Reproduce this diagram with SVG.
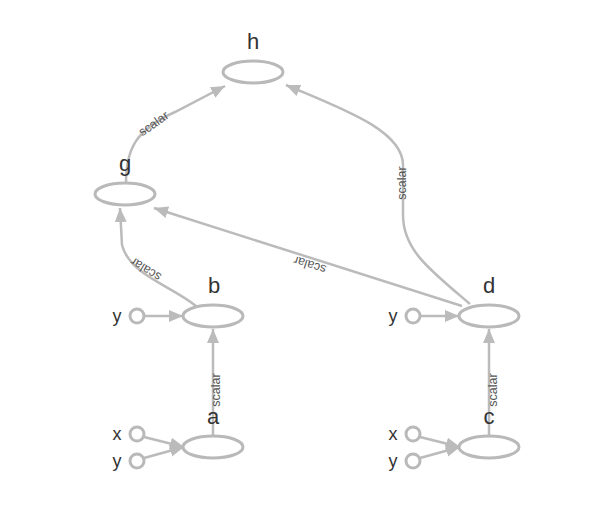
<svg xmlns="http://www.w3.org/2000/svg" width="608" height="525" viewBox="0 0 608 525">
<defs>
<style>
.n{fill:#fff;stroke:#b9b9b9;stroke-width:3}
.e{fill:none;stroke:#bbb;stroke-width:2.5}
.t{font-family:"Liberation Sans",Arial,sans-serif;font-size:22px;fill:#333;text-anchor:middle}
.l{font-family:"Liberation Sans",Arial,sans-serif;font-size:12.5px;fill:#555;text-anchor:middle}
.i{font-family:"Liberation Sans",Arial,sans-serif;font-size:18px;fill:#333;text-anchor:middle}
</style>
<marker id="ar" markerUnits="userSpaceOnUse" markerWidth="16" markerHeight="14" refX="14" refY="6" orient="auto" viewBox="0 0 16 12">
<path d="M0 0 L14 6 L0 12 Z" fill="#bbb"/>
</marker>
</defs>
<g id="edges">
<path class="e" d="M126 183 C126 150 135 130 175 112 L225 86" marker-end="url(#ar)"/>
<path class="e" d="M470 304 C430 270 403 250 403 215 L403 165 C403 130 340 108 286 85" marker-end="url(#ar)"/>
<path class="e" d="M462 306 L154 208" marker-end="url(#ar)"/>
<path class="e" d="M196 306 C170 285 130 275 122 245 L120 208" marker-end="url(#ar)"/>
<path class="e" d="M144 316 L183 316" marker-end="url(#ar)"/>
<path class="e" d="M213 436 L213 329" marker-end="url(#ar)"/>
<path class="e" d="M144 437 L184 447" marker-end="url(#ar)"/>
<path class="e" d="M144 458 L184 447" marker-end="url(#ar)"/>
<path class="e" d="M420 316 L459 316" marker-end="url(#ar)"/>
<path class="e" d="M489 436 L489 329" marker-end="url(#ar)"/>
<path class="e" d="M420 437 L460 447" marker-end="url(#ar)"/>
<path class="e" d="M420 458 L460 447" marker-end="url(#ar)"/>
<text class="l" transform="translate(156,127) rotate(-35)">scalar</text>
<text class="l" transform="translate(406,183) rotate(-90)">scalar</text>
<text class="l" transform="translate(311,261) rotate(197.6)">scalar</text>
<text class="l" transform="translate(148,266) rotate(212)">scalar</text>
<text class="l" transform="translate(220,390) rotate(-90)">scalar</text>
<text class="l" transform="translate(497,390) rotate(-90)">scalar</text>
</g>
<g id="h"><ellipse class="n" cx="253" cy="72" rx="30" ry="11"/><text class="t" x="253" y="49">h</text></g>
<g id="g"><ellipse class="n" cx="125" cy="194" rx="30" ry="11"/><text class="t" x="125" y="171">g</text></g>
<g id="b"><ellipse class="n" cx="213" cy="316" rx="30" ry="11"/><text class="t" x="214" y="293">b</text></g>
<g id="d"><ellipse class="n" cx="489" cy="316" rx="30" ry="11"/><text class="t" x="489" y="293">d</text></g>
<g id="a"><ellipse class="n" cx="213" cy="447" rx="30" ry="11"/><text class="t" x="213" y="424">a</text></g>
<g id="c"><ellipse class="n" cx="489" cy="447" rx="30" ry="11"/><text class="t" x="489" y="424">c</text></g>
<g id="b_y"><circle class="n" cx="137" cy="316" r="7"/><text class="i" x="117" y="322">y</text></g>
<g id="a_x"><circle class="n" cx="137" cy="434" r="7"/><text class="i" x="117" y="440">x</text></g>
<g id="a_y"><circle class="n" cx="137" cy="461" r="7"/><text class="i" x="117" y="467">y</text></g>
<g id="d_y"><circle class="n" cx="413" cy="316" r="7"/><text class="i" x="393" y="322">y</text></g>
<g id="c_x"><circle class="n" cx="413" cy="434" r="7"/><text class="i" x="393" y="440">x</text></g>
<g id="c_y"><circle class="n" cx="413" cy="461" r="7"/><text class="i" x="393" y="467">y</text></g>
</svg>
